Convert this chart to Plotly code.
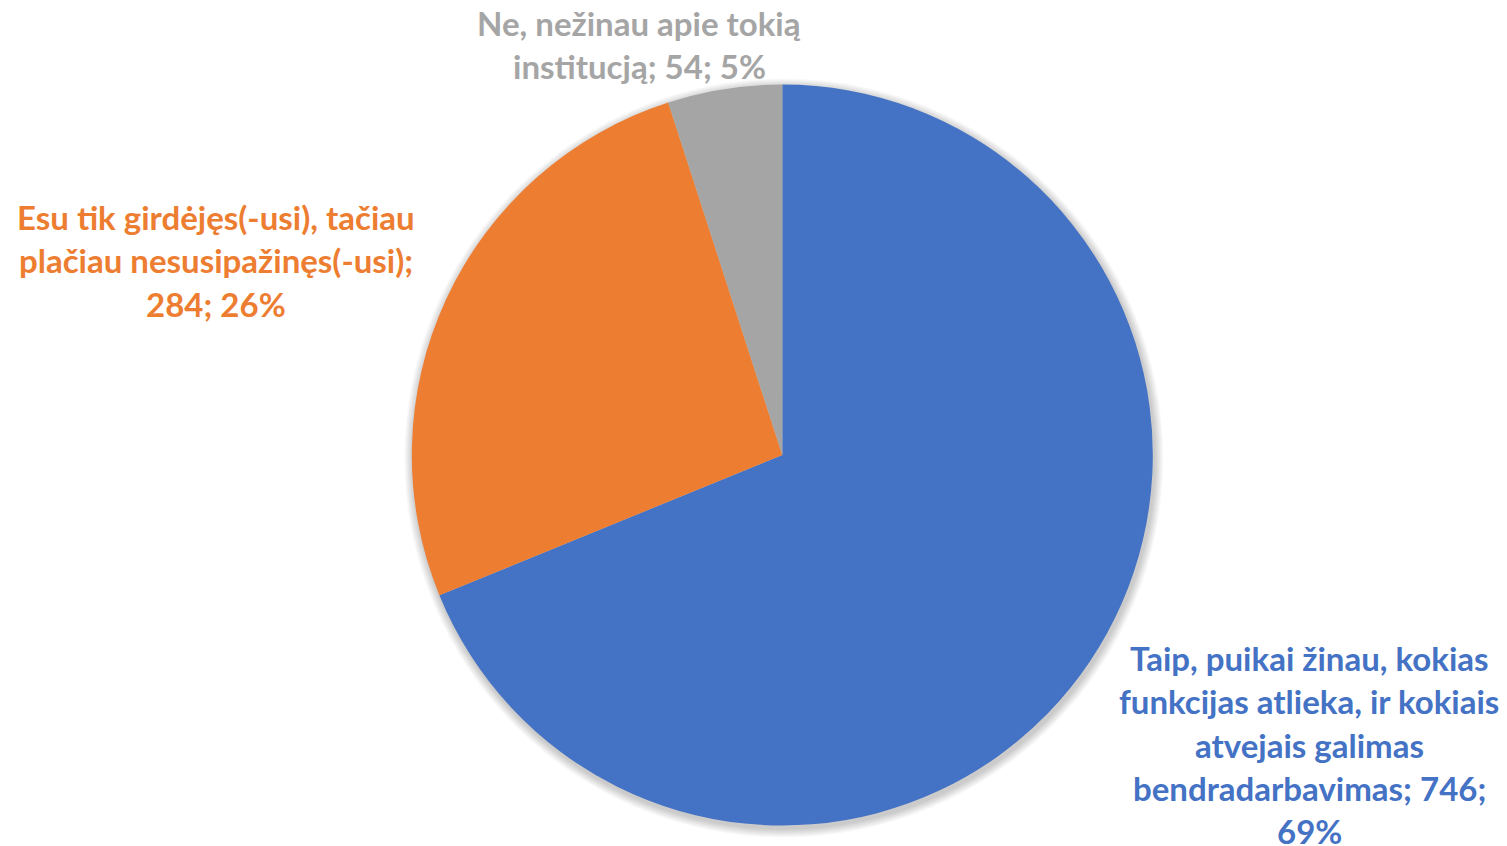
import plotly.graph_objects as go

# Survey answers, counts and slice colours
categories = [
    "Taip, puikai žinau, kokias\nfunkcijas atlieka, ir kokiais\natvejais galimas\nbendradarbavimas",
    "Esu tik girdėjęs(-usi), tačiau\nplačiau nesusipažinęs(-usi)",
    "Ne, nežinau apie tokią\ninstitucją",
]
counts = [746, 284, 54]
colors = ["#4472C4", "#ED7D31", "#A5A5A5"]

# separators between name / count / percent in each label
separators = [("; ", ";\n"), (";\n", "; "), ("; ", "; ")]
# label line centres (pixels) and line step
label_centres = [(1309, 658), (216, 217), (639, 23)]
line_step = 43.3

W, H = 1507, 846
cx, cy, r = 782.3, 455.0, 370.5

total = sum(counts)
percents = [round(v / total * 100) for v in counts]


def domain(cx_px, cy_px, rad):
    return dict(
        x=[(cx_px - rad) / W, (cx_px + rad) / W],
        y=[1 - (cy_px + rad) / H, 1 - (cy_px - rad) / H],
    )


fig = go.Figure()

# soft drop shadow under the pie
for k in range(1, 10):
    fig.add_trace(go.Pie(
        values=[1], marker=dict(colors=["#000000"]), opacity=0.024,
        domain=domain(cx + 1.5, cy + 3, r + k), textinfo="none",
        hoverinfo="skip", showlegend=False, sort=False,
    ))

fig.add_trace(go.Pie(
    labels=[c.replace("\n", " ") for c in categories],
    values=counts,
    marker=dict(colors=colors, line=dict(width=0)),
    sort=False, direction="clockwise", rotation=0,
    textinfo="none", showlegend=False,
    domain=domain(cx, cy, r),
))

annotations = []
for name, v, p, (s1, s2), (lx, ly), col in zip(
        categories, counts, percents, separators, label_centres, colors):
    text = f"{name}{s1}{v}{s2}{p}%"
    for i, line in enumerate(text.split("\n")):
        annotations.append(dict(
            x=lx / W, y=1 - (ly + i * line_step) / H,
            xref="paper", yref="paper", xanchor="center", yanchor="middle",
            text=line, showarrow=False,
            font=dict(family="Lato", size=33, color=col, weight=700),
        ))

fig.update_layout(
    width=W, height=H,
    margin=dict(l=0, r=0, t=0, b=0),
    paper_bgcolor="white", plot_bgcolor="white",
    annotations=annotations,
)

fig.write_html("out.html")
